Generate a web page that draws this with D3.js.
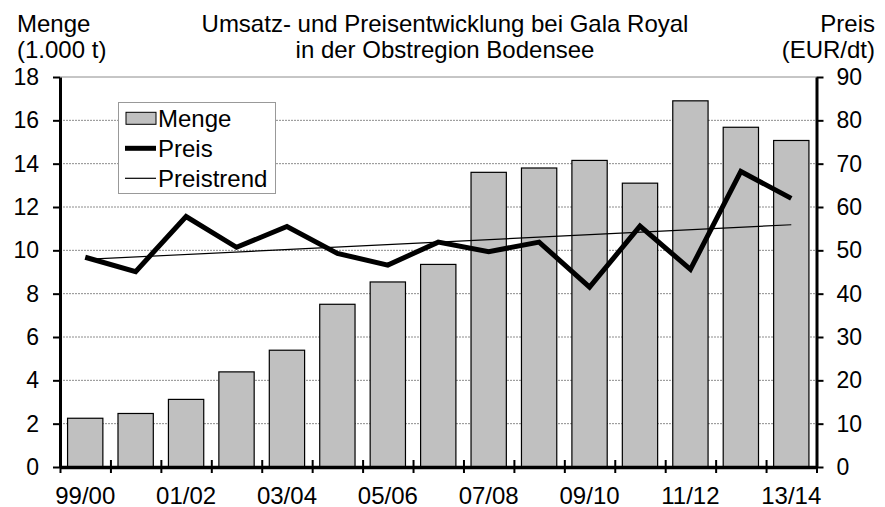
<!DOCTYPE html>
<html><head><meta charset="utf-8">
<script src="https://cdn.jsdelivr.net/npm/d3@7"></script>
<style>
html,body{margin:0;padding:0;background:#fff;}
text{font-family:"Liberation Sans",Arial,sans-serif;fill:#000;}
</style></head>
<body>
<svg id="chart" width="885" height="507"></svg>
<script>
const categories = ["99/00","00/01","01/02","02/03","03/04","04/05","05/06","06/07","07/08","08/09","09/10","10/11","11/12","12/13","13/14"];
const menge = [2.25,2.47,3.12,4.39,5.39,7.51,8.54,9.35,13.6,13.8,14.15,13.1,16.9,15.68,15.07];
const preis = [48.4,45.1,57.8,50.7,55.5,49.3,46.6,51.9,49.7,51.9,41.5,55.6,45.6,68.2,62.0];
const preistrendEnds = [47.9,55.9];
const leftTicks = [0,2,4,6,8,10,12,14,16,18];
const rightTicks = [0,10,20,30,40,50,60,70,80,90];
const shownLabels = ["99/00","01/02","03/04","05/06","07/08","09/10","11/12","13/14"];
const titleLines = ["Umsatz- und Preisentwicklung bei Gala Royal","in der Obstregion Bodensee"];
const legendItems = ["Menge","Preis","Preistrend"];

const svg = d3.select("#chart");
const L = 60, R = 816.5, T = 77, B = 467;
const FS = 24;

const x = d3.scaleBand().domain(categories).range([L,R]).paddingInner(0.3).paddingOuter(0.15);
const xb = d3.scaleLinear().domain([0,categories.length]).range([L,R]);
const yL = d3.scaleLinear().domain([0,18]).range([B,T]);
const yR = d3.scaleLinear().domain([0,90]).range([B,T]);
const cx = c => x(c) + x.bandwidth()/2;

// gridlines
svg.append("g").selectAll("line").data(leftTicks.filter(d=>d>0)).join("line")
  .attr("x1",L).attr("x2",R).attr("y1",d=>yL(d)).attr("y2",d=>yL(d))
  .attr("stroke","#8c8c8c").attr("stroke-width",1)
  .attr("stroke-dasharray",d=>d===18?null:"2,1");

// bars
svg.append("g").selectAll("rect").data(categories).join("rect")
  .attr("x",d=>x(d)).attr("width",x.bandwidth())
  .attr("y",(d,i)=>yL(menge[i])).attr("height",(d,i)=>B-yL(menge[i]))
  .attr("fill","#c0c0c0").attr("stroke","#000").attr("stroke-width",1.2);

// trend
svg.append("line")
  .attr("x1",cx(categories[0])).attr("y1",yR(preistrendEnds[0]))
  .attr("x2",cx(categories[categories.length-1])).attr("y2",yR(preistrendEnds[1]))
  .attr("stroke","#000").attr("stroke-width",1.2);

// price line
svg.append("path").datum(preis)
  .attr("d",d3.line().x((d,i)=>cx(categories[i])).y(d=>yR(d)))
  .attr("fill","none").attr("stroke","#000").attr("stroke-width",5)
  .attr("stroke-linejoin","miter");

// left axis
const gl = svg.append("g").attr("transform",`translate(${L},0)`)
  .call(d3.axisLeft(yL).tickValues(leftTicks).tickSize(7).tickSizeOuter(0).tickPadding(14));
gl.select(".domain").attr("stroke-width",3);
gl.selectAll(".tick line").attr("stroke-width",2);
gl.selectAll("text").style("font-size",FS-1+"px").style("font-family","Liberation Sans, Arial, sans-serif");

// right axis
const gr = svg.append("g").attr("transform",`translate(${R},0)`)
  .call(d3.axisRight(yR).tickValues(rightTicks).tickSize(7).tickSizeOuter(0).tickPadding(13));
gr.select(".domain").attr("stroke-width",3);
gr.selectAll(".tick line").attr("stroke-width",2);
gr.selectAll("text").style("font-size",FS-1+"px").style("font-family","Liberation Sans, Arial, sans-serif");

// bottom axis boundary ticks
const gb = svg.append("g").attr("transform",`translate(0,${B})`)
  .call(d3.axisBottom(xb).tickValues(d3.range(categories.length+1)).tickFormat("").tickSize(6).tickSizeOuter(0));
gb.select(".domain").attr("stroke-width",3.5);
gb.selectAll(".tick line").attr("y1",-7).attr("stroke-width",2);

// bottom labels
const gbl = svg.append("g").attr("transform",`translate(0,${B})`)
  .call(d3.axisBottom(x).tickSize(0).tickPadding(20).tickFormat(d=>shownLabels.includes(d)?d:""));
gbl.select(".domain").remove();
gbl.selectAll("text").style("font-size",FS+"px").style("font-family","Liberation Sans, Arial, sans-serif");

// titles
svg.append("g").selectAll("text").data(titleLines).join("text")
  .attr("x",445).attr("y",(d,i)=>32+i*26).attr("text-anchor","middle")
  .style("font-size",FS+"px").text(d=>d);
svg.append("text").attr("x",17).attr("y",32).style("font-size",FS+"px").text("Menge");
svg.append("text").attr("x",17).attr("y",58).style("font-size",FS+"px").text("(1.000 t)");
svg.append("text").attr("x",875).attr("y",32).attr("text-anchor","end").style("font-size",FS+"px").text("Preis");
svg.append("text").attr("x",875).attr("y",58).attr("text-anchor","end").style("font-size",FS+"px").text("(EUR/dt)");

// legend
const lg = svg.append("g");
lg.append("rect").attr("x",118.5).attr("y",102.5).attr("width",157).attr("height",91)
  .attr("fill","#fff").attr("stroke","#999").attr("stroke-width",1);
const rows = lg.selectAll("g").data(legendItems).join("g")
  .attr("transform",(d,i)=>`translate(0,${118.3+i*30})`);
rows.filter((d,i)=>i===0).append("rect").attr("x",126).attr("y",-6).attr("width",30).attr("height",12)
  .attr("fill","#c0c0c0").attr("stroke","#000").attr("stroke-width",1);
rows.filter((d,i)=>i===1).append("line").attr("x1",125).attr("x2",156)
  .attr("stroke","#000").attr("stroke-width",5);
rows.filter((d,i)=>i===2).append("line").attr("x1",125).attr("x2",156)
  .attr("stroke","#000").attr("stroke-width",1.2);
rows.append("text").attr("x",158).attr("y",8.5).style("font-size",FS+"px").text(d=>d);
</script>
</body></html>
